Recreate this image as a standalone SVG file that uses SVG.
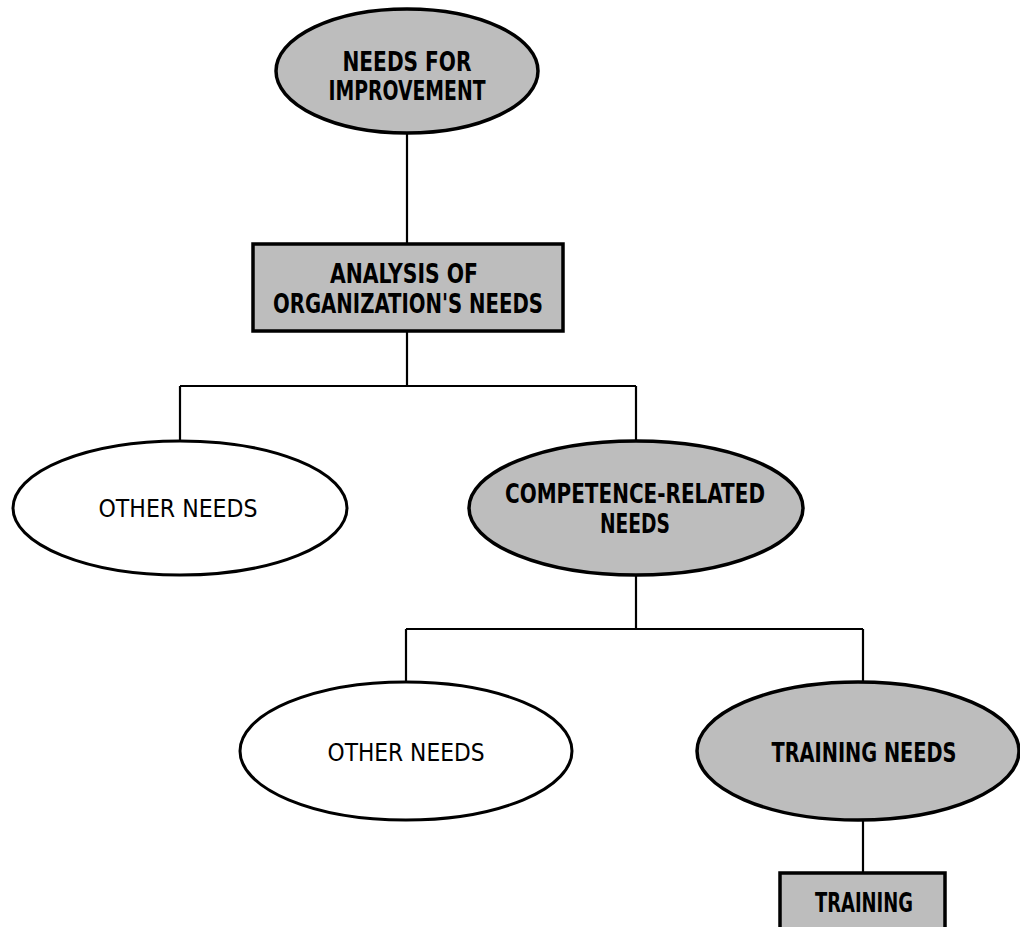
<svg xmlns="http://www.w3.org/2000/svg" width="1020" height="927" viewBox="0 0 1020 927">
<style>
.sh{fill:#bdbdbd;stroke:#000;stroke-width:3.5}
.wh{fill:#fff;stroke:#000;stroke-width:3}
.ln{fill:none;stroke:#000;stroke-width:2.2}
.b{font-family:"DejaVu Sans Condensed","DejaVu Sans",sans-serif;font-weight:bold;font-size:27px;fill:#000;text-anchor:middle}
.r{font-family:"DejaVu Sans Condensed","DejaVu Sans",sans-serif;font-size:25px;fill:#000;text-anchor:middle}
</style>
<rect width="1020" height="927" fill="#fff"/>
<g id="connectors">
<path class="ln" d="M407 133V244M407 331V386M180 386H636M180 386V441M636 386V441"/>
<path class="ln" d="M636 575V629M406 629H863M406 629V683M863 629V683M863 820V873"/>
</g>
<g id="needs-improvement">
<ellipse class="sh" cx="407" cy="71" rx="131" ry="62"/>
<text class="b" x="407" y="71" textLength="129" lengthAdjust="spacingAndGlyphs">NEEDS FOR</text>
<text class="b" x="407" y="100" textLength="157" lengthAdjust="spacingAndGlyphs">IMPROVEMENT</text>
</g>
<g id="analysis">
<rect class="sh" x="253" y="244" width="310" height="87"/>
<text class="b" x="404" y="283" textLength="148" lengthAdjust="spacingAndGlyphs">ANALYSIS OF</text>
<text class="b" x="408" y="313" textLength="270" lengthAdjust="spacingAndGlyphs">ORGANIZATION'S NEEDS</text>
</g>
<g id="other-needs-1">
<ellipse class="wh" cx="180" cy="508" rx="167" ry="67"/>
<text class="r" x="178" y="517" textLength="159" lengthAdjust="spacingAndGlyphs">OTHER NEEDS</text>
</g>
<g id="competence">
<ellipse class="sh" cx="636" cy="508" rx="167" ry="67"/>
<text class="b" x="635" y="503" textLength="260" lengthAdjust="spacingAndGlyphs">COMPETENCE-RELATED</text>
<text class="b" x="635" y="533" textLength="70" lengthAdjust="spacingAndGlyphs">NEEDS</text>
</g>
<g id="other-needs-2">
<ellipse class="wh" cx="406" cy="751" rx="166" ry="69"/>
<text class="r" x="406" y="761" textLength="157" lengthAdjust="spacingAndGlyphs">OTHER NEEDS</text>
</g>
<g id="training-needs">
<ellipse class="sh" cx="858" cy="751" rx="161" ry="69"/>
<text class="b" x="864" y="762" textLength="185" lengthAdjust="spacingAndGlyphs">TRAINING NEEDS</text>
</g>
<g id="training">
<rect class="sh" x="780" y="873" width="165" height="70"/>
<text class="b" x="864" y="912" textLength="98" lengthAdjust="spacingAndGlyphs">TRAINING</text>
</g>
</svg>
